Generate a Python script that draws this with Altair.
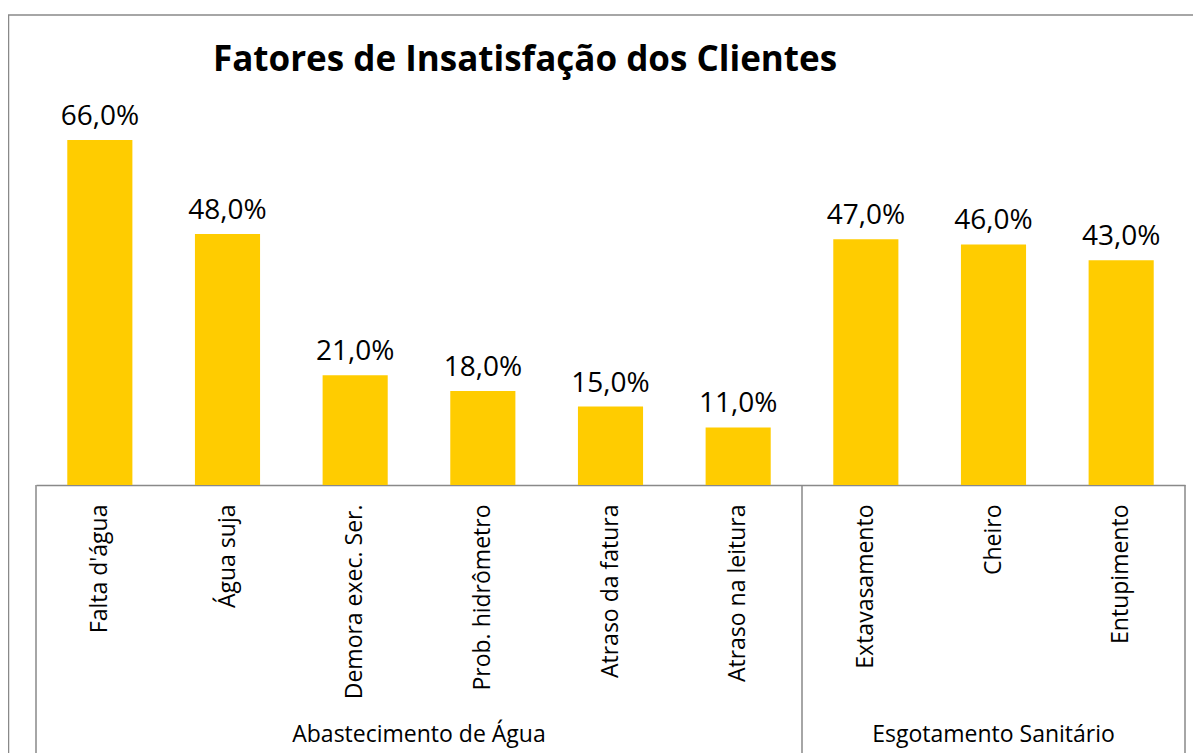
import altair as alt
import pandas as pd

categories = ["Falta d'água", "Água suja", "Demora exec. Ser.", "Prob. hidrômetro",
              "Atraso da fatura", "Atraso na leitura", "Extavasamento", "Cheiro", "Entupimento"]
values = [66.0, 48.0, 21.0, 18.0, 15.0, 11.0, 47.0, 46.0, 43.0]
groups = ["Abastecimento de Água", "Esgotamento Sanitário"]
group_sizes = [6, 3]
title_text = "Fatores de Insatisfação dos Clientes"

W, H = 1149, 366
BOTTOM = 268
step = W / len(categories)
GRAY = "#898989"
FONT = "Open Sans"

df = pd.DataFrame({"cat": categories, "val": values,
                   "label": [f"{v:.1f}%".replace(".", ",") for v in values]})

# group label positions and divider positions from group sizes
centers, bounds = [], [0.0]
start = 0
for n in group_sizes:
    centers.append((start + n / 2) * step)
    start += n
    bounds.append(start * step)
gdf = pd.DataFrame({"group": groups, "cx": centers})
bdf = pd.DataFrame({"bx": bounds})

xscale = alt.Scale(paddingInner=0.49, paddingOuter=0.245)
x = alt.X("cat:N", sort=categories, scale=xscale,
          axis=alt.Axis(title=None, ticks=False, labelAngle=270, labelAlign="right",
                        labelBaseline="middle", labelPadding=19, labelFontSize=23,
                        labelFont=FONT, labelColor="black", labelLimit=0,
                        domainColor=GRAY, domainWidth=1.5, grid=False))
y = alt.Y("val:Q", scale=alt.Scale(domain=[0, 70]), axis=None)

bars = alt.Chart(df).mark_bar(color="#FFCC00").encode(x=x, y=y)
labels = alt.Chart(df).mark_text(fontSize=28, font=FONT, dy=-15, baseline="alphabetic",
                                 color="black").encode(x=alt.X("cat:N", sort=categories, scale=xscale),
                                                       y=y, text="label:N")

vlines = alt.Chart(bdf).mark_rule(color=GRAY, strokeWidth=1.5).encode(
    x=alt.X("bx:Q", scale=None), y=alt.value(H), y2=alt.value(H + BOTTOM + 20))

glabels = alt.Chart(gdf).mark_text(fontSize=23, font=FONT, baseline="alphabetic",
                                   color="black").encode(
    x=alt.X("cx:Q", scale=None), y=alt.value(H + 257), text="group:N")

tdf = pd.DataFrame({"t": [title_text]})
title = alt.Chart(tdf).mark_text(fontSize=35, font=FONT, fontWeight="bold", align="left",
                                 baseline="alphabetic", color="black").encode(
    x=alt.value(177), y=alt.value(-48), text="t:N")

border_top = alt.Chart(tdf).mark_rule(color=GRAY, strokeWidth=1.5).encode(
    x=alt.value(-28), x2=alt.value(W + 20), y=alt.value(-104))
border_left = alt.Chart(tdf).mark_rule(color=GRAY, strokeWidth=1.5).encode(
    x=alt.value(-27.5), y=alt.value(-104), y2=alt.value(H + BOTTOM + 20))

chart = alt.layer(border_top, border_left, bars, labels, vlines, glabels, title).properties(
    width=W, height=H,
    autosize=alt.AutoSizeParams(type="none"),
    padding={"left": 28, "top": 111, "right": 8, "bottom": BOTTOM + 20},
).configure_view(stroke=None)

chart.save("out.html", embed_options={"renderer": "svg", "actions": False})
